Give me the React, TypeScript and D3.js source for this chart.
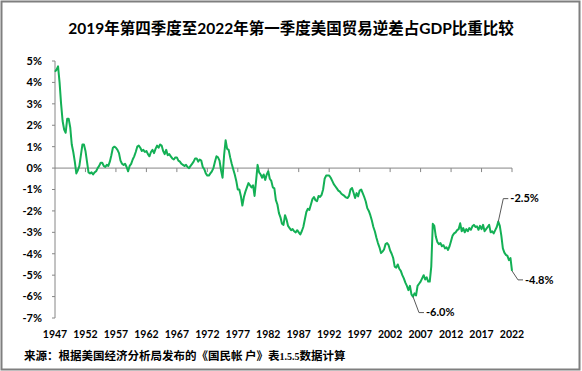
import React from "react";
import * as d3 from "d3";

// quarterly net exports / GDP (%), 4 values per year
const v1940s = [
  4.5, 4.6, 4.75, 4.0, 3.0, 2.2, 1.8, 1.65, 2.3, 2.3, 1.9, 1.1,
];
const v1950s = [
  0.75, 0.3, -0.25, -0.1, 0.1, 0.6, 1.1, 1.1, 0.8, 0.3, -0.2, -0.25,
  -0.2, -0.3, -0.2, -0.15, 0.0, 0.1, 0.25, 0.25, 0.1, 0.05, 0.15, 0.1,
  0.3, 0.6, 0.95, 1.0, 0.95, 0.85, 0.7, 0.35, 0.2, 0.15, 0.2, 0.05,
  -0.15, 0.1, 0.2, 0.4,
];
const v1960s = [
  0.55, 0.75, 1.0, 1.05, 0.95, 0.8, 0.85, 0.75, 0.8, 0.65, 0.55, 0.75,
  0.85, 0.7, 0.9, 1.05, 0.95, 1.1, 1.05, 0.8, 0.65, 0.85, 0.6, 0.65,
  0.55, 0.45, 0.4, 0.5, 0.5, 0.35, 0.3, 0.2, 0.15, 0.1, 0.15, 0.05,
  0.0, 0.1, 0.2, 0.3,
];
const v1970s = [
  0.45, 0.45, 0.3, 0.4, 0.35, 0.05, -0.05, -0.25, -0.35, -0.35, -0.25, -0.15,
  0.0, 0.3, 0.55, 0.5, 0.35, -0.1, -0.45, 0.6, 1.3, 0.9, 0.85, 0.5,
  0.2, -0.05, -0.3, -0.6, -1.0, -1.0, -1.3, -1.75, -1.35, -1.1, -0.9, -0.7,
  -0.8, -0.9, -0.8, -1.3,
];
const v1980s = [
  -0.6, 0.15, -0.2, -0.3, -0.45, -0.3, -0.55, -0.3, -0.15, -0.5, -0.6, -0.9,
  -0.95, -1.5, -1.7, -2.1, -2.3, -2.6, -2.65, -2.2, -2.4, -2.7, -2.8, -2.9,
  -2.85, -2.95, -3.0, -2.9, -3.0, -3.1, -2.95, -2.75, -2.4, -2.05, -1.9, -1.95,
  -1.7, -1.45, -1.35, -1.5,
];
const v1990s = [
  -1.55, -1.3, -1.35, -1.25, -1.0, -0.5, -0.35, -0.35, -0.35, -0.45, -0.6, -0.75,
  -0.85, -0.95, -1.05, -1.1, -1.2, -1.25, -1.3, -1.37, -1.4, -1.3, -1.0, -0.93,
  -1.15, -1.4, -1.17, -1.32, -1.05, -1.0, -1.17, -1.35, -1.56, -1.87, -2.0, -2.2,
  -2.45, -2.75, -2.96, -3.25,
];
const v2000s = [
  -3.5, -3.7, -3.97, -3.9, -3.8, -3.55, -3.5, -3.6, -3.85, -4.0, -4.2, -4.6,
  -4.65, -4.5, -4.7, -4.8, -5.0, -5.15, -5.35, -5.5, -5.7, -5.5, -5.9, -6.0,
  -5.85, -5.95, -5.5, -5.4, -5.3, -5.15, -5.0, -5.2, -5.1, -5.3, -5.3, -4.6,
  -2.6, -2.7, -3.2, -3.45,
];
const v2010s = [
  -3.55, -3.5, -3.65, -3.6, -3.75, -3.7, -3.82, -3.65, -3.4, -3.15, -3.05, -3.0,
  -2.9, -2.85, -2.58, -2.95, -2.8, -3.0, -2.85, -2.95, -2.8, -2.88, -2.72, -2.65,
  -2.75, -2.72, -2.88, -2.7, -2.85, -2.65, -2.95, -2.85, -2.75, -2.65, -3.0, -2.95,
  -3.05, -2.9, -2.75, -2.5,
];
const v2020s = [-2.7, -3.15, -3.75, -3.95, -4.05, -4.1, -4.3, -4.2, -4.8];

const values = [
  ...v1940s, ...v1950s, ...v1960s, ...v1970s, ...v1980s,
  ...v1990s, ...v2000s, ...v2010s, ...v2020s,
];
const firstYear = 1947;
const quarters = values.map(
  (_, i) => `${firstYear + Math.floor(i / 4)}Q${(i % 4) + 1}`
);

const yearLabels = [
  "1947", "1952", "1957", "1962", "1967", "1972", "1977", "1982",
  "1987", "1992", "1997", "2002", "2007", "2012", "2017", "2022",
];
const yTicks = [5, 4, 3, 2, 1, 0, -1, -2, -3, -4, -5, -6, -7];

const callouts = [
  { quarter: "2019Q4", text: "-2.5%" },
  { quarter: "2005Q4", text: "-6.0%" },
  { quarter: "2022Q1", text: "-4.8%" },
];

const title = "2019年第四季度至2022年第一季度美国贸易逆差占GDP比重比较";

const W = 582;
const H = 371;
const latin = "Lato, 'Noto Sans CJK SC', sans-serif";
const cjk = "'Noto Sans CJK SC', sans-serif";

export default function App() {
  const x = d3.scaleLinear().domain([0, values.length - 1]).range([55, 512]);
  const y = d3.scaleLinear().domain([-7, 5]).range([318, 61]);
  const line = d3
    .line<number>()
    .x((_, i) => x(i))
    .y((d) => y(d));

  // leader offsets for each callout (up-right or down-right)
  const leader = (idx: number, up: boolean) => {
    const px = x(idx);
    const py = y(values[idx]);
    const ex = px + (up ? 5 : 6);
    const ey = up ? py - 23 : values[idx] < -5.5 ? py + 16 : py + 9;
    return { px, py, ex, ey };
  };

  return (
    <svg
      width={W}
      height={H}
      style={{ position: "absolute", left: 0, top: 0, background: "#fff" }}
    >
      <rect x={1.5} y={1.5} width={W - 4} height={H - 3} fill="#fff" stroke="#7f7f7f" strokeWidth={2} />
      <text x={291} y={34} textAnchor="middle" fontFamily={latin} fontWeight="bold" fontSize={15.5} fill="#000">
        {title}
      </text>

      {/* y axis */}
      <line x1={55} x2={55} y1={y(5)} y2={y(-7)} stroke="#868686" />
      {yTicks.map((t) => (
        <g key={t}>
          <line x1={52} x2={55} y1={y(t)} y2={y(t)} stroke="#868686" />
          <text x={42} y={y(t)} dy="0.35em" textAnchor="end" fontFamily={latin} fontWeight="bold" fontSize={11} fill="#000">
            {t + "%"}
          </text>
        </g>
      ))}

      {/* x axis on the zero line */}
      <line x1={x(0)} x2={x(values.length - 1)} y1={y(0)} y2={y(0)} stroke="#868686" />
      {yearLabels.map((lab) => {
        const idx = quarters.indexOf(lab + "Q1");
        return (
          <g key={lab}>
            {idx > 0 && <line x1={x(idx)} x2={x(idx)} y1={y(0)} y2={y(0) + 4} stroke="#868686" />}
            <text x={x(idx)} y={338} textAnchor="middle" fontFamily={latin} fontWeight="bold" fontSize={10.5} fill="#000">
              {lab}
            </text>
          </g>
        );
      })}

      <path d={line(values) || ""} fill="none" stroke="#13b055" strokeWidth={2} strokeLinejoin="round" />

      {callouts.map((c) => {
        const idx = quarters.indexOf(c.quarter);
        const up = c.text === "-2.5%";
        const { px, py, ex, ey } = leader(idx, up);
        return (
          <g key={c.quarter}>
            <polyline points={`${px},${py} ${ex},${ey} ${ex + 5},${ey}`} fill="none" stroke="#595959" strokeWidth={1} />
            <text x={ex + 7} y={ey} dy="0.35em" fontFamily={latin} fontWeight="bold" fontSize={11} fill="#000">
              {c.text}
            </text>
          </g>
        );
      })}

      <text x={24} y={360} fontFamily={cjk} fontWeight="bold" fontSize={11.5} fill="#000">
        来源：根据美国经济分析局发布的《国民帐 户》表
        <tspan fontFamily="'Liberation Serif', serif" fontSize={10}>1.5.5</tspan>
        数据计算
      </text>
    </svg>
  );
}
